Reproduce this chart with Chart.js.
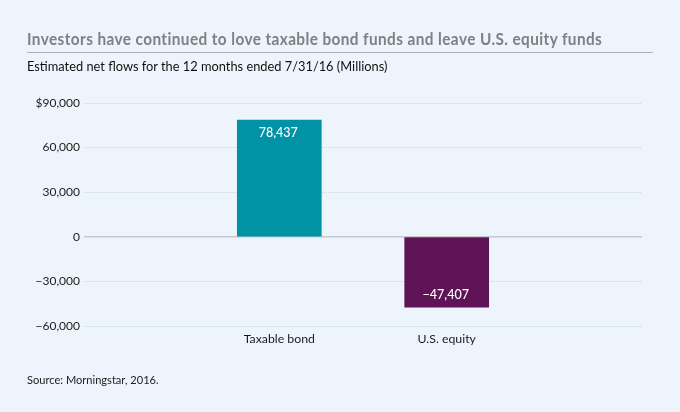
<!DOCTYPE html>
<html>
<head>
<meta charset="utf-8">
<script src="https://cdn.jsdelivr.net/npm/chart.js@4"></script>
<style>
  html, body { margin: 0; padding: 0; background: #edf4fb; }
  #wrap { position: relative; width: 680px; height: 412px; overflow: hidden; font-family: Lato, sans-serif; }
  #title, #sub, #source { position: absolute; left: 27px; white-space: nowrap; transform-origin: left center; }
  #title { top: 28px; font-size: 17px; line-height: 22px; font-weight: 700; color: #7d8184; letter-spacing: 0.45px; transform: scaleX(0.903); }
  #rule { position: absolute; left: 27px; top: 52px; width: 626px; height: 1px; background: #b0b3b7; }
  #sub { top: 57px; font-size: 14px; line-height: 18px; color: #111; transform: scaleX(0.916); }
  #source { top: 372px; font-size: 12px; line-height: 16px; color: #1c1c1c; transform: scaleX(0.923); }
  canvas { position: absolute; left: 0; top: 0; }
</style>
</head>
<body>
<div id="wrap">
  <canvas id="chart" width="680" height="412"></canvas>
  <div id="title">Investors have continued to love taxable bond funds and leave U.S. equity funds</div>
  <div id="rule"></div>
  <div id="sub">Estimated net flows for the 12 months ended 7/31/16 (Millions)</div>
  <div id="source">Source: Morningstar, 2016.</div>
</div>
<script>
// blank slots keep the two bars at the spacing of the original
const categories = ["", "", "", "Taxable bond", "", "", "U.S. equity", "", "", ""];
const flows = [null, null, null, 78437, null, null, -47407, null, null, null];
const barColors = ["", "", "", "#0092a5", "", "", "#5f1458", "", "", ""];
const yMin = -60000;
const yMax = 90000;
const yStep = 30000;

function fmt(v) {
  const s = Math.abs(v).toLocaleString("en-US");
  if (v < 0) return "\u2212" + s;
  return s;
}

const barLabels = {
  id: "barLabels",
  afterDatasetsDraw(chart) {
    const ctx = chart.ctx;
    const meta = chart.getDatasetMeta(0);
    ctx.save();
    ctx.font = "500 12.5px Lato, sans-serif";
    ctx.fillStyle = "#ffffff";
    ctx.textAlign = "center";
    ctx.textBaseline = "middle";
    flows.forEach((v, i) => {
      if (v === null) return;
      const el = meta.data[i];
      const y = v > 0 ? el.y + 13 : el.y - 12;
      ctx.fillText(fmt(v), el.x - 1, y);
    });
    ctx.restore();
  }
};

new Chart(document.getElementById("chart"), {
  type: "bar",
  data: {
    labels: categories,
    datasets: [{ data: flows, backgroundColor: barColors, barThickness: 84 }]
  },
  options: {
    responsive: false,
    animation: false,
    layout: { padding: { left: 0, right: 38, top: 103, bottom: 0 } },
    plugins: { legend: { display: false }, tooltip: { enabled: false } },
    scales: {
      x: {
        afterFit(scale) { scale.height = 86; },
        grid: { display: false, drawTicks: false },
        border: { display: false },
        ticks: { color: "#1c1c1c", font: { family: "Lato", size: 12.3 }, padding: 6, maxRotation: 0, autoSkip: false }
      },
      y: {
        min: yMin,
        max: yMax,
        afterFit(scale) { scale.width = 84; },
        ticks: {
          stepSize: yStep,
          color: "#1c1c1c",
          padding: 4,
          font: { family: "Lato", size: 12 },
          callback(v) { return v === yMax ? "$" + fmt(v) : fmt(v); }
        },
        grid: {
          drawTicks: false,
          color(c) { return c.tick.value === 0 ? "#c6c8ca" : "#cdd5dd"; },
          lineWidth(c) { return c.tick.value === 0 ? 1.5 : 1; }
        },
        border: { display: false, dash(c) { return c.tick.value === 0 ? [] : [1, 1]; } }
      }
    }
  },
  plugins: [barLabels]
});
</script>
</body>
</html>
